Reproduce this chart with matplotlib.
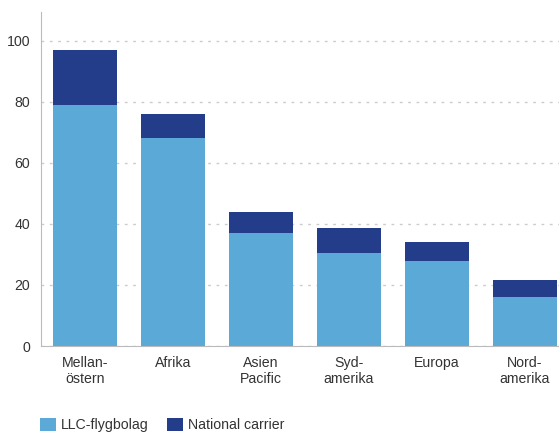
import numpy as np
import matplotlib.pyplot as plt

# Regions and aircraft counts per carrier type
regions = ["Mellan-\nöstern", "Afrika", "Asien\nPacific", "Syd-\namerika", "Europa", "Nord-\namerika"]
llc = [79, 68, 37, 30.5, 28, 16]
national = [18, 8, 7, 8, 6, 5.5]
yticks = [0, 20, 40, 60, 80, 100]

LIGHT = "#5aa9d7"
DARK = "#243d8b"
TEXT = "#333333"

plt.rcParams["font.family"] = ["Liberation Sans", "DejaVu Sans"]
FS = 10.2

W, H = 559, 432
fig = plt.figure(figsize=(W / 100, H / 100), dpi=100)
ax = fig.add_axes([41 / W, 1 - 346 / H, (W - 41) / W, (346 - 12) / H])

x = np.arange(len(regions))
ax.bar(x, llc, width=0.727, color=LIGHT, label="LLC-flygbolag", zorder=2)
ax.bar(x, national, width=0.727, bottom=llc, color=DARK, label="National carrier", zorder=2)

ax.set_xlim(-0.5, (W - 41) / 88 - 0.5)
ax.set_ylim(0, 109.4)
ax.set_yticks(yticks)
ax.set_xticks(x)
ax.set_xticklabels(regions, fontsize=FS, color=TEXT, linespacing=1.2)
ax.tick_params(axis="y", length=0, pad=8, labelsize=FS, labelcolor=TEXT)
ax.tick_params(axis="x", length=0, pad=7)

ax.grid(axis="y", color="#cccccc", linestyle=(0, (2, 4)), linewidth=1, zorder=0)
for side in ["top", "right"]:
    ax.spines[side].set_visible(False)
ax.spines["left"].set_color("#bbbbbb")
ax.spines["bottom"].set_color("#bbbbbb")

fig.legend(loc="center left", bbox_to_anchor=(40 / W, 1 - 425 / H), ncol=2, frameon=False,
           fontsize=FS, labelcolor=TEXT, handlelength=1.1, handleheight=1.1,
           handletextpad=0.37, columnspacing=1.3, borderaxespad=0, borderpad=0)

fig.savefig("out.png", dpi=100)
